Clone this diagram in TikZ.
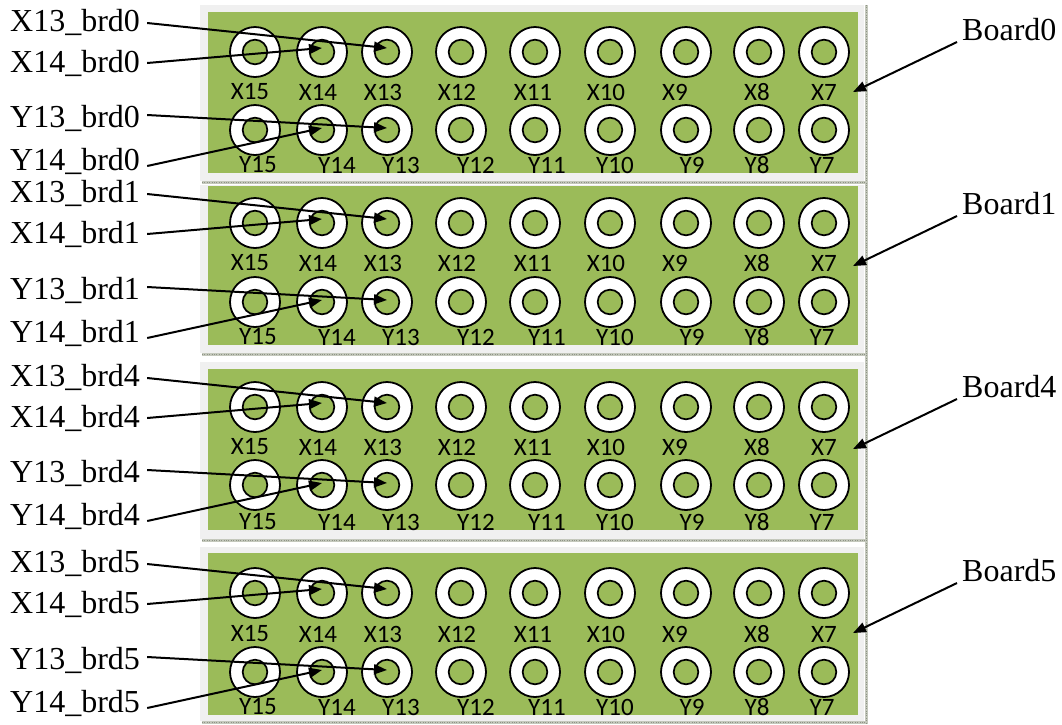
\documentclass[tikz,border=0pt]{standalone}
\usepackage{fontspec}
\setmainfont{Liberation Serif}
\newfontfamily\pinfont{Carlito}
\usetikzlibrary{arrows.meta}
\definecolor{pcb}{HTML}{9BBB59}
\definecolor{framegray}{HTML}{F0F0F0}
\definecolor{seamgray}{HTML}{C4C8BC}
\definecolor{seamdark}{HTML}{8E9486}
\begin{document}
\begin{tikzpicture}[x=1pt,y=-1pt,
  ring/.style={circle,draw=black,fill=white,line width=1.8pt,minimum size=50pt,inner sep=0pt},
  hole/.style={circle,draw=black,fill=pcb,line width=1.7pt,minimum size=24.6pt,inner sep=0pt},
  pin/.style={font=\pinfont\fontsize{25}{28}\selectfont,inner sep=0pt},
  lab/.style={font=\fontsize{32}{36}\selectfont,anchor=west,inner sep=7pt},
  blab/.style={font=\fontsize{32}{36}\selectfont,anchor=west,inner sep=5pt},
  arr/.style={line width=2pt,-{Triangle[length=13pt,width=10pt]}},
  seam/.style={line width=3pt,seamgray},
  seamdots/.style={line width=1pt,seamdark,dash pattern=on 0.8pt off 1.6pt}]
\useasboundingbox (0,0) rectangle (1062,724);
\draw[seam] (866,5) -- (866,724);
\draw[seamdots] (866,5) -- (866,724);
\foreach \b/\gt/\g/\gb/\pt/\xr/\yr/\xl/\yl in
  {0/5/12/173/182/52/130/92/165,
   1/185/186/345/354/223/302/263/337,
   4/362/369/530/540/407/485/447/522,
   5/547/553/715/722/593/672/634/707}{
  \fill[framegray] (200,\gt) rectangle (864,{\pt-1});
  \fill[pcb] (208,\g) rectangle (858,\gb);
  \draw[seam] (202,\pt) -- (866,\pt);
  \draw[seamdots] (202,\pt) -- (866,\pt);
  \foreach \n/\cx/\lx/\ly in {15/255/250/258, 14/322/318/337, 13/387/383/401,
     12/461/457/476, 11/535/533/547, 10/610/606/615, 9/686/675/692,
     8/759/757/757, 7/824/824/822}{
    \node[ring] (b\b x\n) at (\cx,\xr) {};
    \node[hole] (h\b x\n) at (\cx,\xr) {};
    \node[pin] (p\b x\n) at (\lx,\xl) {X\n};
    \node[ring] (b\b y\n) at (\cx,\yr) {};
    \node[hole] (h\b y\n) at (\cx,\yr) {};
    \node[pin] (p\b y\n) at (\ly,\yl) {Y\n};
  }
  \node[lab] (l\b x13) at (3,{\xr-30}) {X13\_brd\b};
  \node[lab] (l\b x14) at (3,{\xr+11}) {X14\_brd\b};
  \node[lab] (l\b y13) at (3,{\yr-12}) {Y13\_brd\b};
  \node[lab] (l\b y14) at (3,{\yr+31}) {Y14\_brd\b};
  \draw[arr] ([yshift=-1pt]l\b x13.east) -- ([yshift=4pt]h\b x13.center);
  \draw[arr] (l\b x14.east) -- ([yshift=4pt]h\b x14.center);
  \draw[arr] ([yshift=3pt]l\b y13.east) -- ([yshift=2pt]h\b y13.center);
  \draw[arr] ([yshift=-5pt]l\b y14.east) -- ([yshift=2pt]h\b y14.center);
  \node[blab] (brd\b) at (957,{\g+18}) {Board\b};
  \coordinate (t\b) at (853,{\g+80});
  \draw[arr] ([yshift=-12pt]brd\b.west) -- (t\b);
}
\end{tikzpicture}
\end{document}
